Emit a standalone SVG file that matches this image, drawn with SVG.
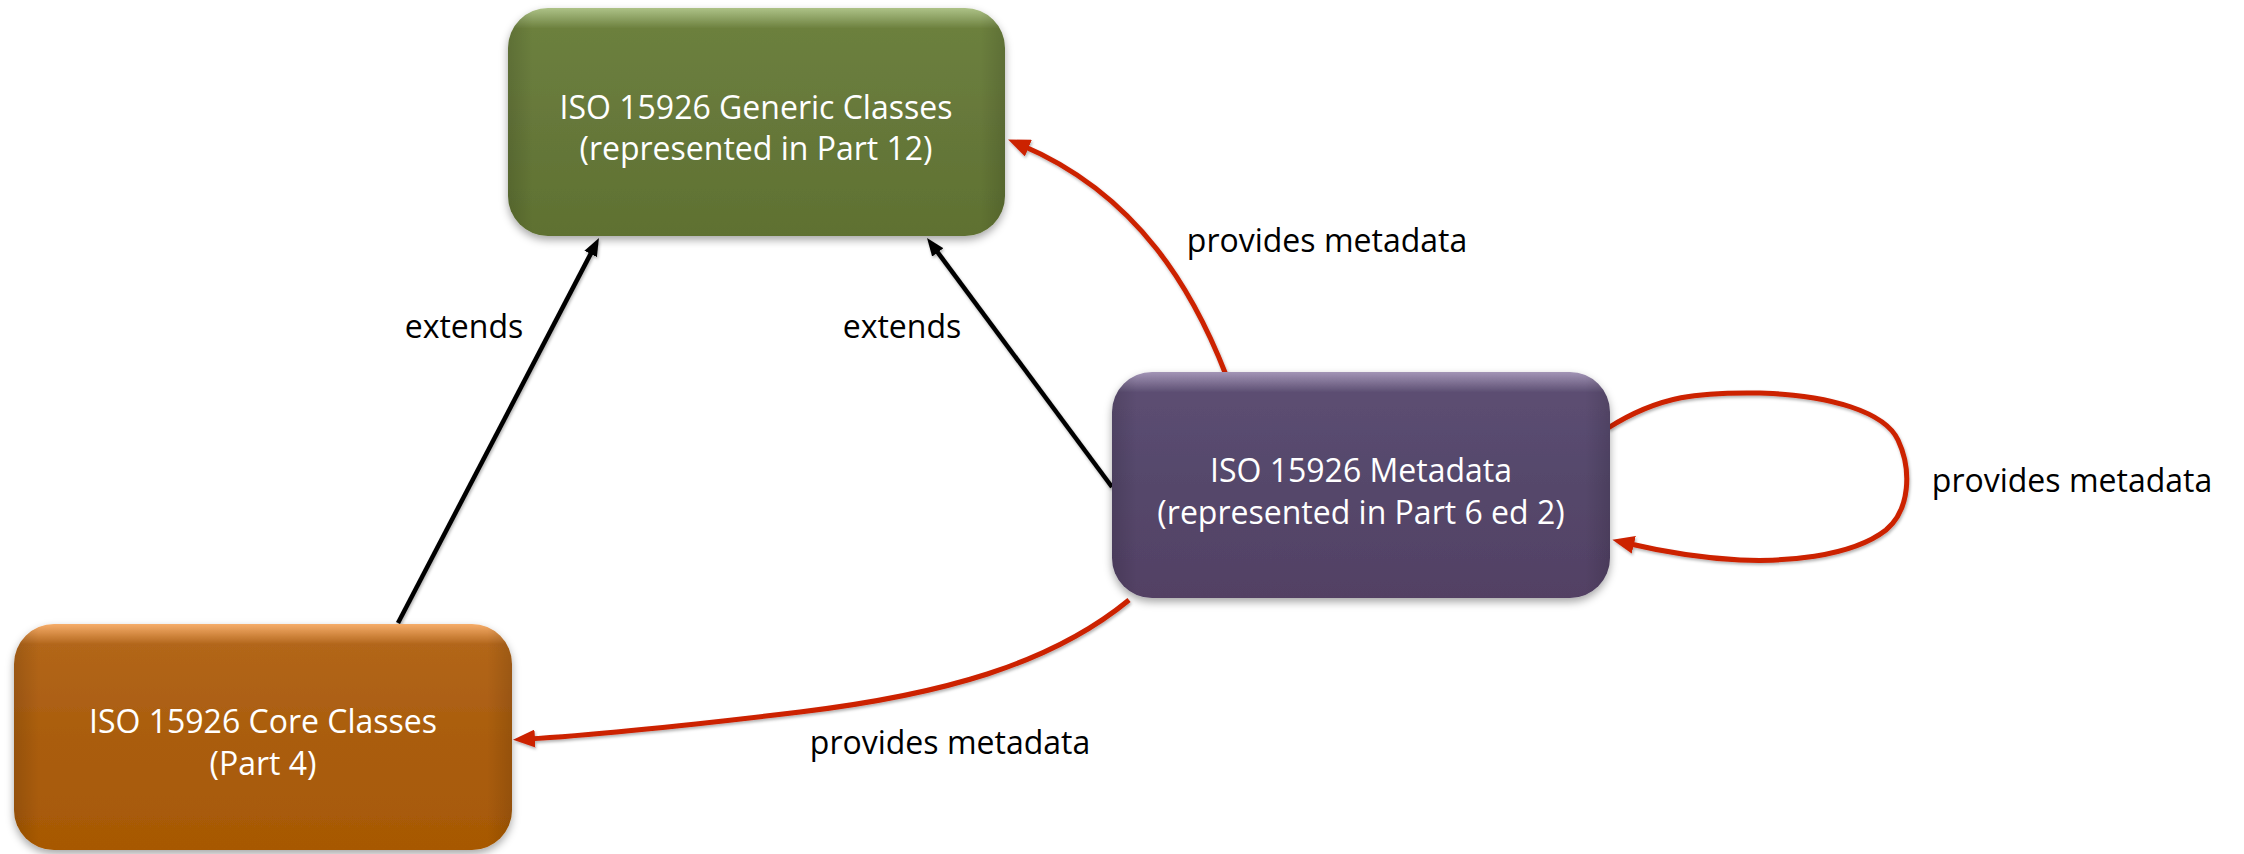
<svg xmlns="http://www.w3.org/2000/svg" width="2244" height="854" viewBox="0 0 2244 854">
<defs>
<style>
.node-text{font-family:"Open Sans","Liberation Sans",sans-serif;font-size:32px;fill:#ffffff;text-anchor:middle}
.label{font-family:"Open Sans","Liberation Sans",sans-serif;font-size:32px;fill:#000000;text-anchor:middle}
.ext{fill:none;stroke:#000000;stroke-width:4.5}
.meta{fill:none;stroke:#cc2000;stroke-width:5}
</style>
<linearGradient id="gGreen" x1="0" y1="0" x2="0" y2="1">
<stop offset="0" stop-color="#adc287"/>
<stop offset="0.09" stop-color="#6c803e"/>
<stop offset="0.5" stop-color="#66783a"/>
<stop offset="1" stop-color="#5f7131"/>
</linearGradient>
<linearGradient id="gPurple" x1="0" y1="0" x2="0" y2="1">
<stop offset="0" stop-color="#a395b6"/>
<stop offset="0.09" stop-color="#5c4e72"/>
<stop offset="0.5" stop-color="#55476b"/>
<stop offset="1" stop-color="#524164"/>
</linearGradient>
<linearGradient id="gOrange" x1="0" y1="0" x2="0" y2="1">
<stop offset="0" stop-color="#f6ad6a"/>
<stop offset="0.09" stop-color="#b2661a"/>
<stop offset="0.5" stop-color="#aa5d0e"/>
<stop offset="1" stop-color="#a75904"/>
</linearGradient>
<linearGradient id="gEdge" x1="0" y1="0" x2="1" y2="0">
<stop offset="0" stop-color="#000000" stop-opacity="0.12"/>
<stop offset="0.05" stop-color="#000000" stop-opacity="0"/>
<stop offset="0.95" stop-color="#000000" stop-opacity="0"/>
<stop offset="1" stop-color="#000000" stop-opacity="0.12"/>
</linearGradient>
<filter id="shadow" x="-10%" y="-10%" width="120%" height="130%">
<feDropShadow dx="0" dy="4" stdDeviation="4" flood-color="#000000" flood-opacity="0.35"/>
</filter>
<filter id="lshadow" x="-10%" y="-10%" width="120%" height="120%">
<feDropShadow dx="1" dy="2" stdDeviation="1.5" flood-color="#000000" flood-opacity="0.3"/>
</filter>
<marker id="ahRed" markerWidth="22" markerHeight="18" refX="8" refY="9" orient="auto" markerUnits="userSpaceOnUse">
<path d="M0,0 L22,9 L0,18 z" fill="#cc2000"/>
</marker>
<marker id="ahBlack" markerWidth="18" markerHeight="14" refX="6" refY="7" orient="auto" markerUnits="userSpaceOnUse">
<path d="M0,0 L18,7 L0,14 z" fill="#000000"/>
</marker>
</defs>
<rect width="2244" height="854" fill="#ffffff"/>

<g id="connectors" filter="url(#lshadow)">
<path class="ext" d="M398,623 L593.4,248.6" marker-end="url(#ahBlack)"/>
<path class="ext" d="M1112,487 L934.2,247.6" marker-end="url(#ahBlack)"/>
<path class="meta" d="M1226,375 C1195,295 1140,195 1021,145" marker-end="url(#ahRed)"/>
<path class="meta" d="M1129,600 C1050,665 940,695 800,712 C700,724 610,734 527,739" marker-end="url(#ahRed)"/>
<path class="meta" d="M1608,428 C1660,395 1700,392 1760,393 C1830,395 1885,412 1898,440 C1912,470 1910,510 1886,530 C1850,558 1780,562 1740,560 C1700,558 1660,551 1626,543" marker-end="url(#ahRed)"/>
</g>

<g id="labels">
<text class="label" x="464" y="338">extends</text>
<text class="label" x="902" y="338">extends</text>
<text class="label" x="1327" y="252">provides metadata</text>
<text class="label" x="2072" y="492">provides metadata</text>
<text class="label" x="950" y="754">provides metadata</text>
</g>

<g id="node-generic">
<rect x="508" y="8" width="497" height="228" rx="40" fill="url(#gGreen)" filter="url(#shadow)"/>
<rect x="508" y="8" width="497" height="228" rx="40" fill="url(#gEdge)"/>
<text class="node-text" x="756" y="119">ISO 15926 Generic Classes</text>
<text class="node-text" x="756" y="160">(represented in Part 12)</text>
</g>

<g id="node-metadata">
<rect x="1112" y="372" width="498" height="226" rx="40" fill="url(#gPurple)" filter="url(#shadow)"/>
<rect x="1112" y="372" width="498" height="226" rx="40" fill="url(#gEdge)"/>
<text class="node-text" x="1361" y="482">ISO 15926 Metadata</text>
<text class="node-text" x="1361" y="524">(represented in Part 6 ed 2)</text>
</g>

<g id="node-core">
<rect x="14" y="624" width="498" height="226" rx="40" fill="url(#gOrange)" filter="url(#shadow)"/>
<rect x="14" y="624" width="498" height="226" rx="40" fill="url(#gEdge)"/>
<text class="node-text" x="263" y="733">ISO 15926 Core Classes</text>
<text class="node-text" x="263" y="775">(Part 4)</text>
</g>
</svg>
